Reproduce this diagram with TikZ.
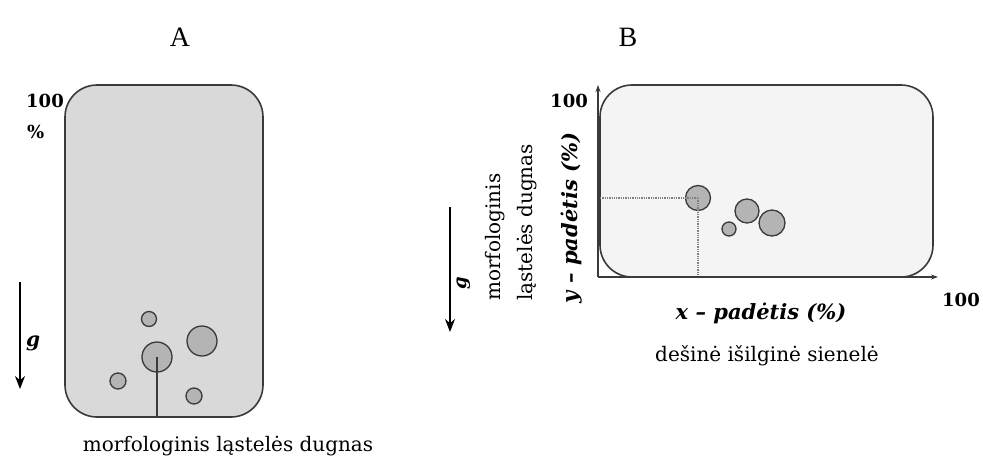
\documentclass[tikz,border=0pt]{standalone}
\usepackage{fontspec}
\setmainfont{DejaVu Serif}
\newfontfamily\letterfont{Liberation Serif}
\usetikzlibrary{arrows.meta}
\definecolor{boxA}{HTML}{D9D9D9}
\definecolor{boxB}{HTML}{F4F4F4}
\definecolor{bub}{HTML}{B4B4B4}
\definecolor{edge}{HTML}{3A3A3A}
\tikzset{
  cellbox/.style={draw=edge, line width=1.6pt, rounded corners=32pt},
  bubble/.style={circle, draw=edge, fill=bub, line width=1.3pt, inner sep=0pt, minimum size=#1},
  lbl/.style={inner sep=0pt, font=\fontsize{20}{24}\selectfont},
  bnum/.style={inner sep=0pt, font=\fontsize{18}{22}\selectfont\bfseries},
  axlbl/.style={inner sep=0pt, font=\fontsize{21}{25}\selectfont\bfseries\itshape},
  garrow/.style={-{Stealth[length=13pt,width=10pt]}, line width=1.5pt},
  axis/.style={-{Stealth[length=7pt,width=5pt]}, line width=1.4pt, draw=edge},
  guide/.style={densely dotted, draw=gray, line width=1.3pt}
}
\begin{document}
\begin{tikzpicture}[x=1pt,y=-1pt]
\useasboundingbox (0,0) rectangle (983,466);
% ---------- panel A ----------
\node[inner sep=0pt, font=\letterfont\fontsize{28}{32}\selectfont] (tA) at (180,37) {A};
\draw[cellbox, fill=boxA] (65,85) rectangle (263,417);
\coordinate (Abot) at (157,417);
\node[bnum, anchor=west] (a100) at (26,101) {100};
\node[bnum, anchor=west] (apct) at (27,132) {\%};
\coordinate (gAs) at (20,282);
\coordinate (gAe) at (20,389);
\draw[garrow] (gAs) -- (gAe);
\node[inner sep=0pt, font=\fontsize{20}{24}\selectfont\bfseries\itshape] (gA) at (33,343) {g};
\node[bubble=15pt] (a1) at (149,319) {};
\node[bubble=30pt] (a2) at (202,341) {};
\node[bubble=30pt] (a3) at (157,357) {};
\node[bubble=16pt] (a4) at (118,381) {};
\node[bubble=16pt] (a5) at (194,396) {};
\draw[draw=edge, line width=1.3pt] (a3.center) -- (Abot);
\node[lbl] (capA) at (228,446) {morfologinis ląstelės dugnas};
% ---------- panel B ----------
\node[inner sep=0pt, font=\letterfont\fontsize{28}{32}\selectfont] (tB) at (628,37) {B};
\draw[cellbox, fill=boxB] (600,85) rectangle (933,277);
\coordinate (O) at (598,277);
\coordinate (Ytop) at (598,85);
\coordinate (Xend) at (938,277);
\node[bubble=25pt] (b1) at (698,198) {};
\node[bubble=24pt] (b2) at (747,211) {};
\node[bubble=26pt] (b3) at (772,223) {};
\node[bubble=14pt] (b4) at (729,229) {};
\coordinate (hy) at (600,198);
\coordinate (vx) at (698,277);
\draw[guide] (hy) -- (b1.center);
\draw[guide] (b1.center) -- (vx);
\draw[axis] (O) -- (Ytop);
\draw[axis] (O) -- (Xend);
\node[bnum, anchor=east] (b100y) at (588,101) {100};
\node[bnum, anchor=west] (b100x) at (942,300) {100};
\node[axlbl] (xl) at (761,313) {x – padėtis (\%)};
\node[lbl] (capB) at (767,356) {dešinė išilginė sienelė};
\node[axlbl, rotate=90] (yl) at (572,218) {y – padėtis (\%)};
\node[lbl, rotate=90, anchor=west] (m1) at (495,301) {morfologinis};
\node[lbl, rotate=90, anchor=west] (m2) at (527,301) {ląstelės dugnas};
\coordinate (gBs) at (450,207);
\coordinate (gBe) at (450,332);
\draw[garrow] (gBs) -- (gBe);
\node[inner sep=0pt, rotate=90, font=\fontsize{18}{22}\selectfont\bfseries\itshape] (gB) at (464,283) {g};
\end{tikzpicture}
\end{document}
